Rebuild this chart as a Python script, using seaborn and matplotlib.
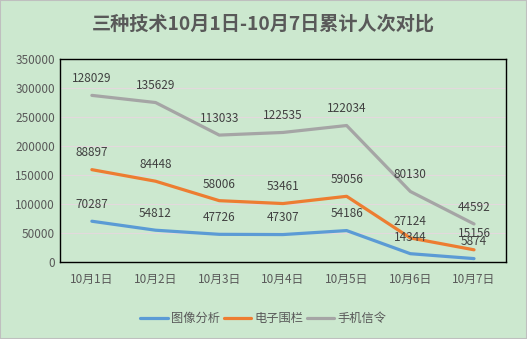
import matplotlib
matplotlib.use("Agg")
import matplotlib.pyplot as plt
import seaborn as sns
import pandas as pd
import numpy as np
from matplotlib.patches import Rectangle

categories = ["10月1日", "10月2日", "10月3日", "10月4日", "10月5日", "10月6日", "10月7日"]
image_analysis = [70287, 54812, 47726, 47307, 54186, 14344, 5874]
e_fence = [88897, 84448, 58006, 53461, 59056, 27124, 15156]
phone_signal = [128029, 135629, 113033, 122535, 122034, 80130, 44592]
series_names = ["图像分析", "电子围栏", "手机信令"]
colors = ["#5b9bd5", "#ed7d31", "#a5a5a5"]
title = "三种技术10月1日-10月7日累计人次对比"

sns.set_theme(style="white")
plt.rcParams['font.family'] = ['Noto Sans CJK SC', 'DejaVu Sans']

bg = "#cce8cf"
fig = plt.figure(figsize=(5.27, 3.39), dpi=100, facecolor=bg)
ax = fig.add_axes([0.1139, 0.2271, 0.846, 0.599])
ax.set_facecolor(bg)

series = [image_analysis, e_fence, phone_signal]
cum = np.cumsum(np.array(series), axis=0)
x = np.arange(len(categories))
for name, raw, stacked, c in zip(series_names, series, cum, colors):
    df = pd.DataFrame({"x": x, "y": stacked})
    sns.lineplot(data=df, x="x", y="y", ax=ax, color=c, linewidth=2.3, label=name, legend=False)
    for xi, yi, v in zip(x, stacked, raw):
        ax.annotate(str(v), (xi, yi), xytext=(0, 12), textcoords="offset points",
                    ha="center", va="center", fontsize=8.5, color="#404040")

ax.set_xlim(-0.5, len(categories) - 0.5)
ax.set_ylim(0, 350000)
ax.set_yticks(np.arange(0, 350001, 50000))
ax.set_xticks(x)
ax.set_xticklabels(categories)
ax.tick_params(axis="both", length=0, labelsize=8.5, labelcolor="#595959")
ax.tick_params(axis="x", pad=8)
ax.set_xlabel("")
ax.set_ylabel("")
ax.grid(axis="y", color="#e3d9dd", linewidth=0.8)
ax.set_axisbelow(True)
for s in ax.spines.values():
    s.set_color("black")
    s.set_linewidth(1)
    s.set_visible(True)

fig.text(0.5, 0.93, title, ha="center", va="center", fontsize=13.8, fontweight="bold", color="#595959")

handles, labels = ax.get_legend_handles_labels()
fig.legend(handles, labels, loc="center", bbox_to_anchor=(0.5, 0.06), ncol=3, frameon=False,
           fontsize=8.8, handlelength=2.25, columnspacing=0.3, handletextpad=0.25, labelcolor="#595959")

fig.patches.append(Rectangle((0, 0), 1, 1, transform=fig.transFigure, fill=False,
                             edgecolor="#bfbfbf", linewidth=1.5))

fig.savefig("out.png", dpi=100, facecolor=bg)
